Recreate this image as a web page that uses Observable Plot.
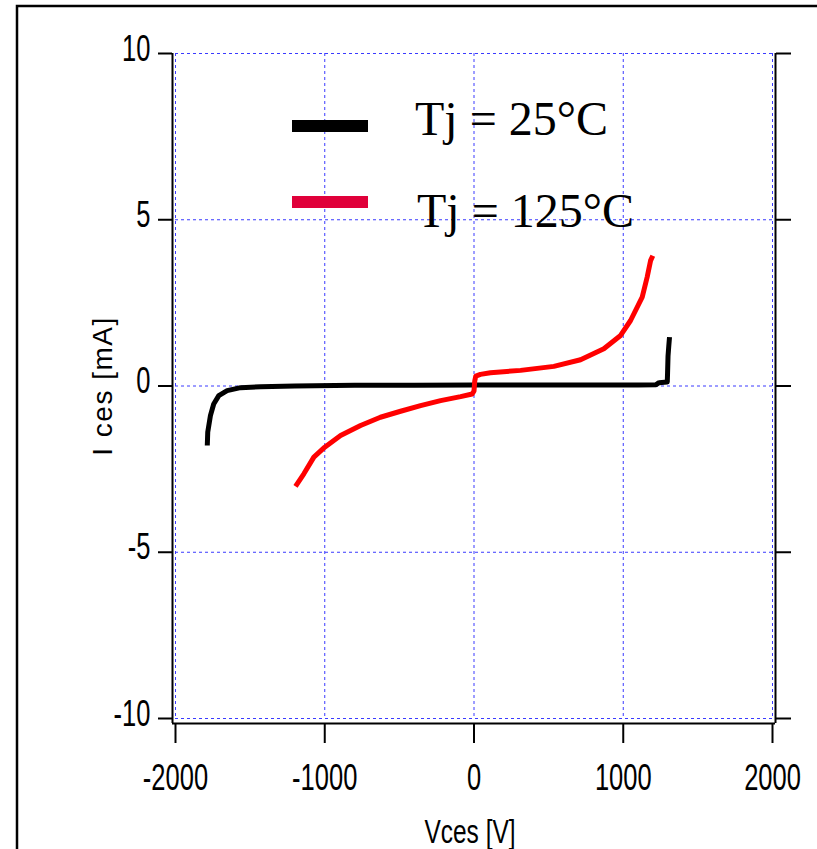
<!DOCTYPE html>
<html>
<head>
<meta charset="utf-8">
<script src="https://cdn.jsdelivr.net/npm/d3@7"></script>
<script src="https://cdn.jsdelivr.net/npm/@observablehq/plot@0.6"></script>
<style>
  html, body { margin: 0; padding: 0; background: #fff; }
  #chart { width: 817px; height: 849px; overflow: hidden; }
</style>
</head>
<body>
<div id="chart"></div>
<script>
// ---- data ----
const xDomain = [-2000, 2000];
const yDomain = [-10, 10];
const xTicks = [-2000, -1000, 0, 1000, 2000];
const yTicks = [-10, -5, 0, 5, 10];
const xLabel = "Vces [V]";
const yLabel = "I ces [mA]";
const seriesNames = ["Tj = 25°C", "Tj = 125°C"];
const seriesColors = ["#000000", "#ff0000"];
const legendColors = ["#000000", "#e0003a"];

// Tj = 25°C
const v25 = [-1787, -1784, -1766, -1744, -1710, -1654, -1564, -1430, -1200, -800, -400, 0, 400, 800, 1100, 1220, 1240, 1295, 1297, 1300, 1305, 1310];
const i25 = [-1.79, -1.39, -0.89, -0.54, -0.29, -0.14, -0.05, -0.02, 0.0, 0.02, 0.02, 0.03, 0.03, 0.03, 0.03, 0.04, 0.10, 0.12, 0.40, 0.90, 1.20, 1.47];
// Tj = 125°C
const v125 = [-1196, -1140, -1073, -1000, -894, -760, -627, -492, -358, -224, -90, -12, 0, 5, 12, 43, 110, 312, 535, 714, 870, 982, 1049, 1127, 1160, 1183, 1198];
const i125 = [-3.02, -2.64, -2.14, -1.84, -1.49, -1.19, -0.94, -0.76, -0.59, -0.44, -0.32, -0.24, -0.15, 0.15, 0.30, 0.35, 0.40, 0.47, 0.59, 0.79, 1.12, 1.52, 1.97, 2.67, 3.27, 3.77, 3.92];

const s25 = v25.map((v, k) => ({V: v, I: i25[k]}));
const s125 = v125.map((v, k) => ({V: v, I: i125[k]}));

const tickFont = "Liberation Sans, Arial, sans-serif";
const gridColor = "#3a3aff";
const fmt = d => String(d);

const plot = Plot.plot({
  width: 817,
  height: 849,
  marginLeft: 175,
  marginRight: 45,
  marginTop: 53,
  marginBottom: 131,
  style: {background: "transparent", fontFamily: tickFont, color: "#000"},
  x: {domain: xDomain, label: null},
  y: {domain: yDomain, label: null},
  marks: [
    Plot.gridX(xTicks, {stroke: gridColor, strokeOpacity: 1, strokeWidth: 1, strokeDasharray: "3,3"}),
    Plot.gridY(yTicks, {stroke: gridColor, strokeOpacity: 1, strokeWidth: 1, strokeDasharray: "3,3"}),
    // axis lines (offset outward from the data frame)
    Plot.ruleX([xDomain[0]], {dx: -3, insetBottom: -5, stroke: "#000", strokeWidth: 2}),
    Plot.ruleX([xDomain[1]], {dx: 3, insetBottom: -5, stroke: "#000", strokeWidth: 2}),
    Plot.ruleY([yDomain[0]], {dy: 5, insetLeft: -3, insetRight: -3, stroke: "#000", strokeWidth: 2}),
    // ticks & labels
    Plot.axisX(xTicks, {anchor: "bottom", tickSize: 20, tickPadding: 20, dy: 5, fontSize: 37, strokeWidth: 2, tickFormat: fmt, label: null}),
    Plot.axisY(yTicks, {anchor: "left", tickSize: 14, tickPadding: 8, dx: -3, fontSize: 37, strokeWidth: 2, tickFormat: fmt, label: null}),
    Plot.axisY(yTicks, {anchor: "right", tickSize: 15, dx: 3, tickFormat: () => "", strokeWidth: 2, label: null}),
    // y axis title
    Plot.text([yLabel], {frameAnchor: "left", dx: -72, rotate: -90, textAnchor: "middle", fontSize: 28, fontFamily: tickFont, fill: "#000", text: d => d}),
    // curves
    Plot.line(s25, {x: "V", y: "I", stroke: seriesColors[0], strokeWidth: 5, strokeLinejoin: "round", strokeLinecap: "butt"}),
    Plot.line(s125, {x: "V", y: "I", stroke: seriesColors[1], strokeWidth: 5, strokeLinejoin: "round", strokeLinecap: "butt"})
  ]
});

document.getElementById("chart").appendChild(plot);

const svg = d3.select(plot);

// condensed tick label glyphs
function condense(sel, s, extraDy) {
  sel.each(function() {
    const el = d3.select(this);
    const x = +el.attr("x") || 0;
    const y = +el.attr("y") || 0;
    const t = el.attr("transform") || "";
    el.attr("x", null).attr("y", null)
      .attr("transform", `${t} translate(${x},${y + extraDy}) scale(${s},1)`);
  });
}
condense(svg.selectAll('g[aria-label="x-axis tick label"] text'), 0.69, 26);
condense(svg.selectAll('g[aria-label="y-axis tick label"] text'), 0.69, 7);

// y label letter spacing
svg.selectAll('g[aria-label="text"] text').attr("letter-spacing", "1.5px");

// x axis title (condensed), centered under plot
svg.append("text")
  .attr("transform", `translate(470,843) scale(0.72,1)`)
  .attr("text-anchor", "middle")
  .attr("font-family", tickFont)
  .attr("font-size", 34)
  .attr("fill", "#000")
  .text(xLabel);

// legend
const legendRows = [
  {y: 126, tx: 415, ty: 135},
  {y: 202, tx: 417, ty: 227}
];
const lg = svg.append("g").attr("aria-label", "legend");
legendRows.forEach((r, k) => {
  lg.append("line")
    .attr("x1", 292).attr("x2", 368).attr("y1", r.y).attr("y2", r.y)
    .attr("stroke", legendColors[k]).attr("stroke-width", 12);
  lg.append("text")
    .attr("x", r.tx).attr("y", r.ty)
    .attr("text-anchor", "start")
    .attr("font-family", "Liberation Serif, Times New Roman, serif")
    .attr("font-size", 48)
    .attr("fill", "#000")
    .text(seriesNames[k]);
});

// outer figure border
svg.append("rect")
  .attr("x", 17).attr("y", 6)
  .attr("width", 830).attr("height", 870)
  .attr("fill", "none").attr("stroke", "#000").attr("stroke-width", 2.5);
</script>
</body>
</html>
